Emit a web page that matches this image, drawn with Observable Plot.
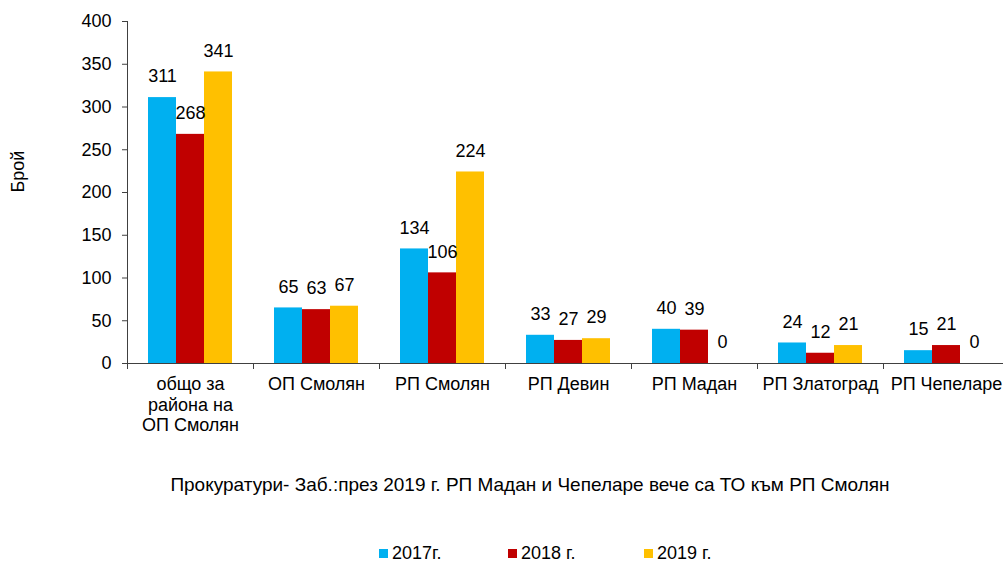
<!DOCTYPE html>
<html>
<head>
<meta charset="utf-8">
<script src="https://cdn.jsdelivr.net/npm/d3@7"></script>
<script src="https://cdn.jsdelivr.net/npm/@observablehq/plot@0.6"></script>
<style>
  html, body { margin: 0; padding: 0; background: #fff; }
  #wrap { position: relative; width: 1003px; height: 563px; overflow: hidden; font-family: "Liberation Sans", Arial, sans-serif; color: #000; }
  #caption { position: absolute; left: 0; width: 1060px; top: 474px; text-align: center; font-size: 19px; line-height: 22px; }
  #legend { position: absolute; left: 0; top: 542px; width: 1003px; height: 22px; font-size: 18px; line-height: 22px; }
  .item { position: absolute; top: 0; white-space: nowrap; }
  .sw { display: inline-block; width: 9px; height: 9px; margin-right: 4px; vertical-align: 1px; }
</style>
</head>
<body>
<div id="wrap">
  <div id="chart"></div>
  <div id="caption"></div>
  <div id="legend"></div>
</div>
<script>
const categories = ["общо за\nрайона на\nОП Смолян", "ОП Смолян", "РП Смолян", "РП Девин", "РП Мадан", "РП Златоград", "РП Чепеларе"];
const v2017 = [311, 65, 134, 33, 40, 24, 15];
const v2018 = [268, 63, 106, 27, 39, 12, 21];
const v2019 = [341, 67, 224, 29, 0, 21, 0];
const series = ["2017г.", "2018 г.", "2019 г."];
const colors = ["#00B0F0", "#C00000", "#FFC000"];
const yTicks = [0, 50, 100, 150, 200, 250, 300, 350, 400];
const yTitle = "Брой";
const captionText = "Прокуратури- Заб.:през 2019 г. РП Мадан и Чепеларе вече са ТО към РП Смолян";

const valuesBySeries = [v2017, v2018, v2019];
const rows = [];
series.forEach((s, si) => categories.forEach((c, ci) => rows.push({cat: c, series: s, value: valuesBySeries[si][ci]})));

const barOffsets = [-28, 0, 28];
const barMarks = [];
const labelMarks = [];
series.forEach((s, si) => {
  const d = rows.filter(r => r.series === s);
  barMarks.push(Plot.barY(d, {x: "cat", y: "value", fill: "series", dx: barOffsets[si]}));
  labelMarks.push(Plot.text(d, {x: "cat", y: "value", text: d => String(d.value), dx: barOffsets[si], dy: -21, fill: "#000", fontSize: 18}));
});

const chart = Plot.plot({
  width: 1003,
  height: 440,
  marginTop: 21,
  marginBottom: 77,
  marginLeft: 127,
  marginRight: -6,
  style: {fontFamily: "'Liberation Sans', Arial, sans-serif", fontSize: "18px", color: "#000", background: "#fff"},
  x: {domain: categories, paddingInner: 7/9, paddingOuter: 7/18, label: null},
  y: {domain: [0, 400], label: null},
  color: {domain: series, range: colors},
  marks: [
    ...barMarks,
    ...labelMarks,
    Plot.ruleY([0], {stroke: "#404040", strokeWidth: 1.2}),
    Plot.ruleX(categories, {x: d => d, dx: -63, y1: 0, y2: 0, insetBottom: -6, stroke: "#404040"}),
    Plot.ruleX([categories[0]], {x: d => d, dx: -63, y1: 0, y2: 400, stroke: "#404040"}),
    Plot.axisY({ticks: yTicks, tickSize: 5, tickPadding: 11, label: null, stroke: "#404040", fill: "#000", fontSize: 18}),
    Plot.axisX({tickSize: 0, tickPadding: 12, lineHeight: 1.14, label: null, fill: "#000", fontSize: 18}),
    Plot.text([yTitle], {frameAnchor: "left", dx: -109, rotate: -90, fill: "#000", fontSize: 18})
  ]
});
document.getElementById("chart").appendChild(chart);

document.getElementById("caption").textContent = captionText;

const legendLeft = [379, 508, 644];
const leg = document.getElementById("legend");
series.forEach((s, i) => {
  const it = document.createElement("div");
  it.className = "item";
  it.style.left = legendLeft[i] + "px";
  const sw = document.createElement("span");
  sw.className = "sw";
  sw.style.background = colors[i];
  it.appendChild(sw);
  it.appendChild(document.createTextNode(s));
  leg.appendChild(it);
});
</script>
</body>
</html>
